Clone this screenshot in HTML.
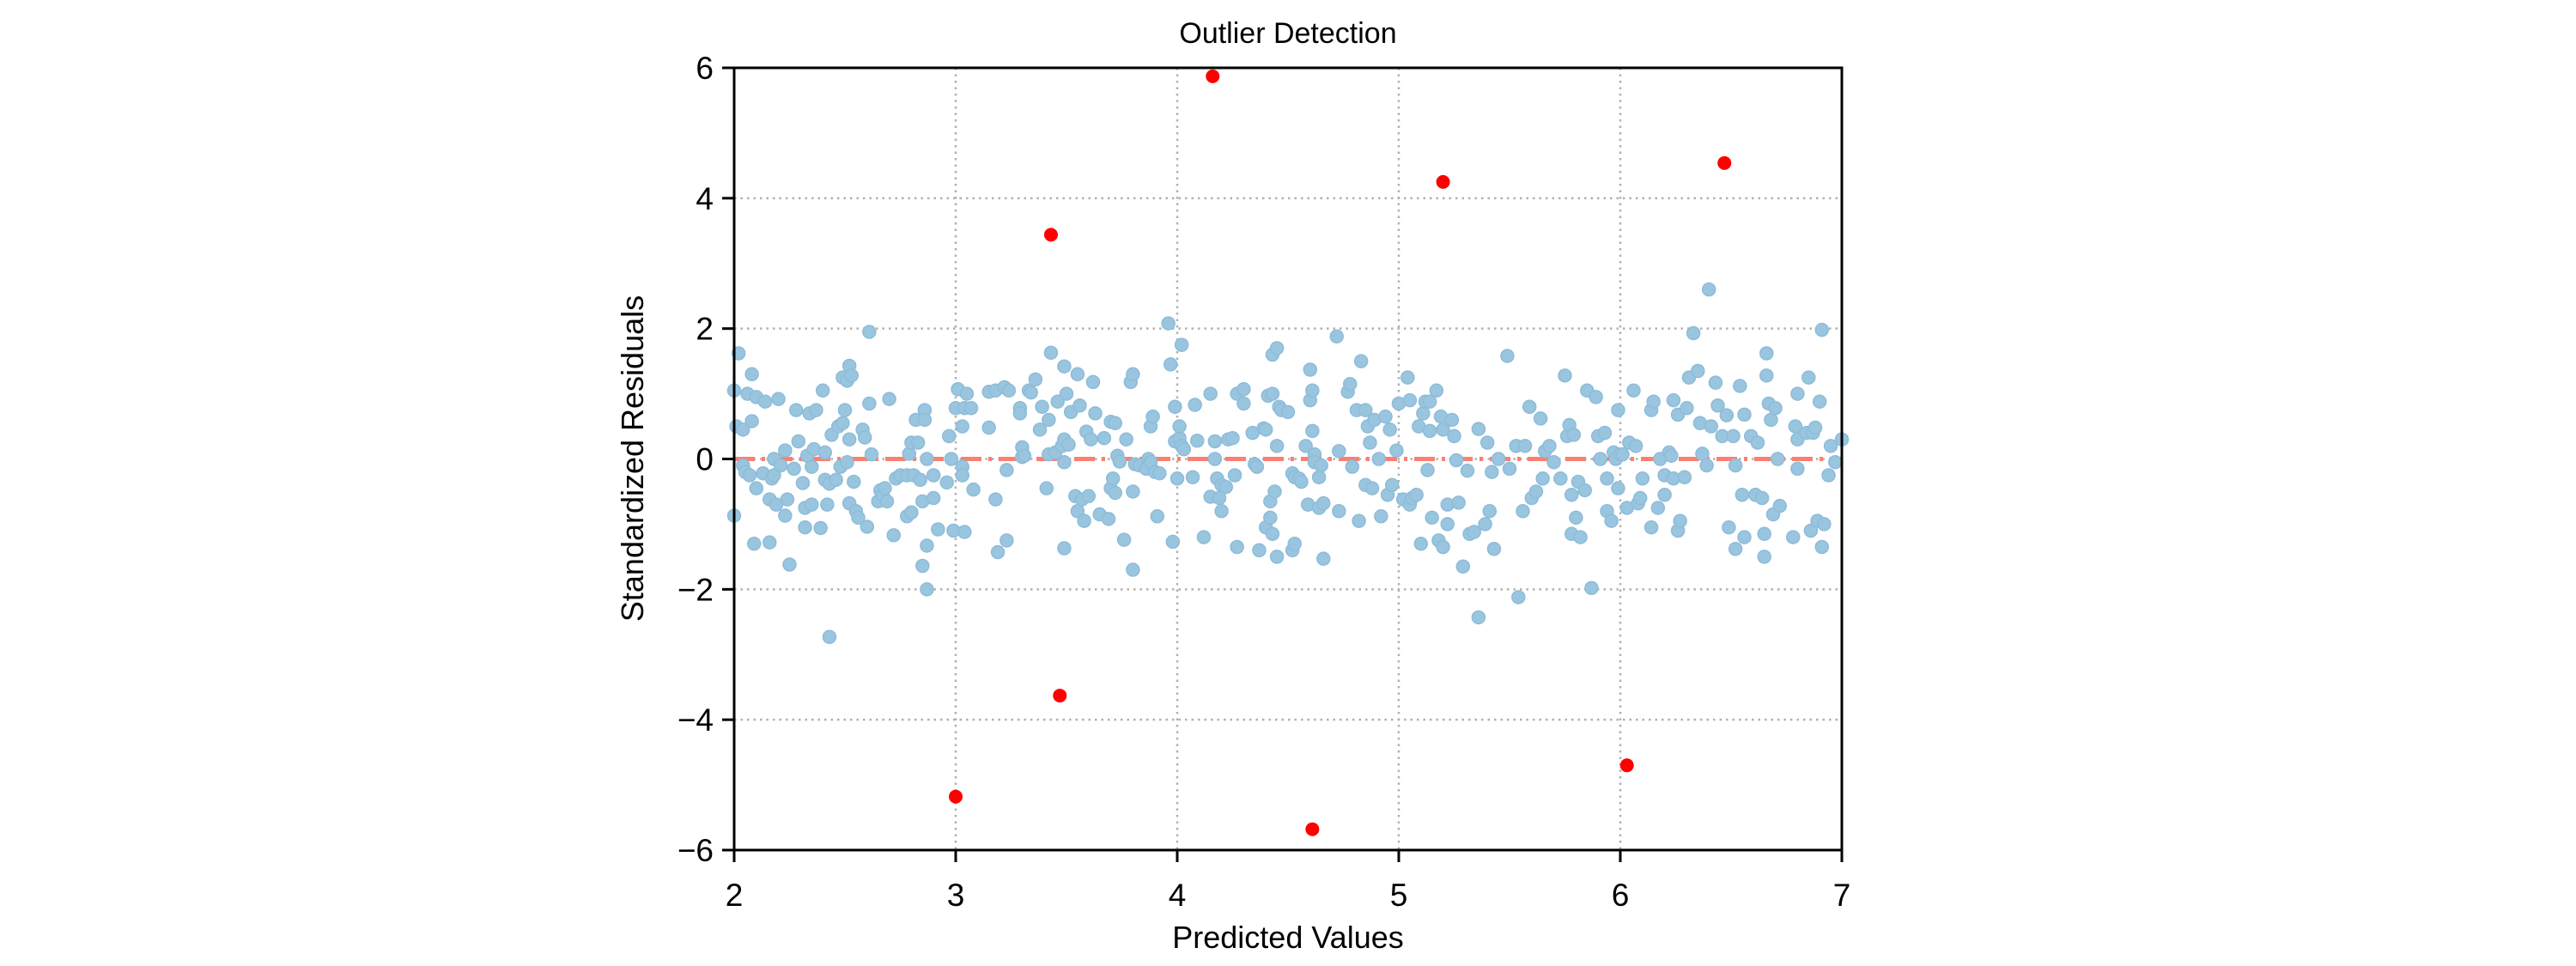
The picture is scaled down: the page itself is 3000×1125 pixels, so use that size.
<!DOCTYPE html>
<html><head><meta charset="utf-8"><style>
html,body{margin:0;padding:0;background:#fff}
svg{display:block}
text{font-family:"Liberation Sans",Arial,sans-serif;fill:#000}
</style></head><body>
<svg id="chart" width="3000" height="1125" viewBox="0 0 3000 1125" xmlns="http://www.w3.org/2000/svg">
<g id="grid"></g>
<g id="zero"></g>
<g id="pts"></g>
<g id="axes"></g>
<text x="1500" y="50" font-size="34" text-anchor="middle">Outlier Detection</text>
<text x="1500" y="1104" font-size="36" text-anchor="middle">Predicted Values</text>
<text x="0" y="0" font-size="36" text-anchor="middle" transform="translate(749,534) rotate(-90)">Standardized Residuals</text>
</svg>
<script>
const xTicks=[2,3,4,5,6,7];
const yTicks=[-6,-4,-2,0,2,4,6];
const yTickLabels=["\u22126","\u22124","\u22122","0","2","4","6"];
const outlierX=[3.0,3.43,3.47,4.16,4.61,5.2,6.03,6.47];
const outlierY=[-5.18,3.44,-3.63,5.87,-5.68,4.25,-4.7,4.54];
const pts=[[2.0,1.05],[2.02,1.62],[2.01,0.5],[2.0,-0.87],[2.04,0.45],[2.04,-0.1],[2.05,-0.2],[2.06,1.0],[2.07,-0.25],[2.08,1.3],[2.08,0.58],[2.09,-1.3],[2.1,0.95],[2.1,-0.45],[2.13,-0.22],[2.14,0.88],[2.16,-1.28],[2.16,-0.62],[2.17,-0.3],[2.18,0.0],[2.18,-0.25],[2.19,-0.7],[2.2,0.92],[2.21,-0.1],[2.23,-0.87],[2.23,0.13],[2.24,-0.62],[2.25,-1.62],[2.27,-0.15],[2.28,0.75],[2.29,0.27],[2.31,-0.37],[2.32,-0.75],[2.32,-1.05],[2.33,0.05],[2.34,0.7],[2.35,-0.7],[2.35,-0.12],[2.36,0.15],[2.37,0.75],[2.39,-1.06],[2.4,1.05],[2.41,-0.32],[2.41,0.1],[2.42,-0.7],[2.43,-0.38],[2.43,-2.73],[2.44,0.37],[2.46,-0.32],[2.47,0.5],[2.48,-0.12],[2.49,1.25],[2.49,0.55],[2.5,0.75],[2.51,-0.05],[2.51,1.2],[2.52,0.3],[2.52,1.43],[2.52,-0.68],[2.53,1.28],[2.54,-0.35],[2.55,-0.8],[2.56,-0.9],[2.58,0.45],[2.59,0.33],[2.6,-1.04],[2.61,1.95],[2.61,0.85],[2.62,0.07],[2.65,-0.65],[2.66,-0.48],[2.67,-0.55],[2.68,-0.45],[2.69,-0.65],[2.7,0.92],[2.72,-1.17],[2.73,-0.3],[2.75,-0.25],[2.78,-0.88],[2.78,-0.25],[2.79,0.08],[2.8,-0.82],[2.8,0.25],[2.81,-0.25],[2.82,0.6],[2.83,0.25],[2.84,-0.32],[2.85,-0.65],[2.85,-1.64],[2.86,0.75],[2.86,0.6],[2.87,-1.33],[2.87,-2.0],[2.87,0.0],[2.9,-0.6],[2.9,-0.25],[2.92,-1.08],[2.96,-0.36],[2.97,0.35],[2.98,0.0],[2.99,-1.1],[3.0,0.78],[3.01,1.07],[3.03,-0.12],[3.03,0.5],[3.03,-0.25],[3.04,-1.12],[3.04,0.78],[3.05,1.0],[3.07,0.78],[3.08,-0.47],[3.15,1.03],[3.15,0.48],[3.18,1.05],[3.18,-0.62],[3.19,-1.43],[3.22,1.1],[3.23,-0.17],[3.23,-1.25],[3.24,1.05],[3.29,0.78],[3.29,0.7],[3.3,0.03],[3.3,0.18],[3.31,0.05],[3.33,1.05],[3.34,1.02],[3.36,1.22],[3.38,0.45],[3.39,0.8],[3.41,-0.45],[3.42,0.6],[3.43,1.63],[3.42,0.07],[3.45,0.1],[3.46,0.88],[3.48,0.2],[3.49,1.42],[3.49,0.3],[3.49,-0.05],[3.49,-1.37],[3.5,1.0],[3.51,0.22],[3.52,0.72],[3.54,-0.57],[3.55,1.3],[3.55,-0.8],[3.56,0.82],[3.57,-0.62],[3.58,-0.95],[3.59,0.42],[3.6,-0.57],[3.61,0.3],[3.62,1.18],[3.63,0.7],[3.65,-0.85],[3.67,0.32],[3.69,-0.92],[3.7,0.57],[3.7,-0.45],[3.71,-0.3],[3.72,-0.52],[3.72,0.55],[3.73,0.05],[3.74,-0.04],[3.76,-1.24],[3.77,0.3],[3.79,1.18],[3.8,1.3],[3.8,-1.7],[3.8,-0.5],[3.81,-0.08],[3.83,-0.1],[3.86,-0.15],[3.87,0.0],[3.88,-0.05],[3.88,0.5],[3.89,0.65],[3.9,-0.2],[3.91,-0.88],[3.92,-0.22],[3.96,2.08],[3.97,1.45],[3.98,-1.27],[3.99,0.8],[3.99,0.27],[4.0,-0.3],[4.01,0.32],[4.01,0.5],[4.02,0.2],[4.02,1.75],[4.03,0.15],[4.07,-0.28],[4.08,0.83],[4.09,0.28],[4.12,-1.2],[4.15,1.0],[4.15,-0.58],[4.17,0.27],[4.17,0.0],[4.18,-0.3],[4.19,-0.6],[4.2,-0.8],[4.2,-0.4],[4.22,-0.43],[4.23,0.3],[4.25,0.32],[4.26,-0.25],[4.27,1.0],[4.27,-1.35],[4.3,1.07],[4.3,0.85],[4.34,0.4],[4.35,-0.08],[4.36,-0.12],[4.37,-1.4],[4.39,0.47],[4.4,0.45],[4.4,-1.05],[4.41,0.97],[4.42,-0.9],[4.42,-0.65],[4.43,1.6],[4.43,1.0],[4.43,-1.15],[4.44,-0.5],[4.45,1.7],[4.45,0.2],[4.45,-1.5],[4.46,0.8],[4.47,0.75],[4.5,0.72],[4.52,-0.22],[4.52,-1.4],[4.53,-0.28],[4.53,-1.3],[4.55,-0.3],[4.56,-0.35],[4.58,0.2],[4.59,-0.7],[4.6,1.37],[4.6,0.9],[4.61,0.43],[4.61,1.05],[4.62,0.07],[4.62,-0.05],[4.64,-0.75],[4.64,-0.28],[4.65,-0.1],[4.66,-0.68],[4.66,-1.53],[4.72,1.88],[4.73,0.12],[4.73,-0.8],[4.77,1.03],[4.78,1.15],[4.79,-0.12],[4.81,0.75],[4.82,-0.95],[4.83,1.5],[4.85,0.75],[4.85,-0.4],[4.86,0.5],[4.87,0.25],[4.88,-0.45],[4.89,0.6],[4.91,0.0],[4.92,-0.88],[4.94,0.65],[4.95,-0.55],[4.96,0.45],[4.97,-0.4],[4.99,0.13],[5.0,0.85],[5.02,-0.62],[5.04,1.25],[5.05,0.9],[5.05,-0.7],[5.06,-0.6],[5.08,-0.55],[5.09,0.5],[5.1,-1.3],[5.11,0.7],[5.12,0.88],[5.13,-0.17],[5.14,0.88],[5.14,0.43],[5.15,-0.9],[5.17,1.05],[5.18,-1.25],[5.19,0.65],[5.2,-1.35],[5.2,0.45],[5.22,-0.7],[5.22,-1.0],[5.24,0.6],[5.25,0.35],[5.26,-0.02],[5.27,-0.67],[5.29,-1.65],[5.31,-0.18],[5.32,-1.15],[5.34,-1.12],[5.36,-2.43],[5.36,0.46],[5.39,-1.0],[5.4,0.25],[5.41,-0.8],[5.42,-0.2],[5.43,-1.38],[5.45,0.0],[5.49,1.58],[5.5,-0.15],[5.53,0.2],[5.54,-2.12],[5.56,-0.8],[5.57,0.2],[5.59,0.8],[5.6,-0.6],[5.62,-0.5],[5.64,0.62],[5.65,-0.3],[5.66,0.12],[5.68,0.2],[5.7,-0.05],[5.73,-0.3],[5.75,1.28],[5.76,0.35],[5.77,0.52],[5.78,-0.55],[5.78,-1.15],[5.79,0.37],[5.8,-0.9],[5.81,-0.35],[5.82,-1.2],[5.84,-0.48],[5.85,1.05],[5.87,-1.98],[5.89,0.95],[5.9,0.35],[5.91,0.0],[5.93,0.4],[5.94,-0.8],[5.94,-0.3],[5.96,-0.95],[5.97,0.1],[5.98,0.0],[5.99,0.75],[5.99,-0.45],[6.0,0.07],[6.01,0.07],[6.03,-0.75],[6.04,0.25],[6.06,1.05],[6.07,0.2],[6.08,-0.68],[6.09,-0.6],[6.1,-0.3],[6.14,0.75],[6.14,-1.05],[6.15,0.88],[6.17,-0.75],[6.18,0.0],[6.2,-0.25],[6.2,-0.55],[6.22,0.1],[6.23,0.05],[6.24,-0.3],[6.24,0.9],[6.26,0.68],[6.26,-1.1],[6.27,-0.95],[6.29,-0.28],[6.3,0.78],[6.31,1.25],[6.33,1.93],[6.35,1.35],[6.36,0.55],[6.37,0.08],[6.39,-0.1],[6.4,2.6],[6.41,0.5],[6.43,1.17],[6.44,0.82],[6.46,0.35],[6.48,0.67],[6.49,-1.05],[6.51,0.35],[6.52,-1.38],[6.52,-0.1],[6.54,1.12],[6.55,-0.55],[6.56,0.68],[6.56,-1.2],[6.59,0.35],[6.61,-0.55],[6.62,0.25],[6.64,-0.6],[6.65,-1.15],[6.65,-1.5],[6.66,1.62],[6.66,1.28],[6.67,0.85],[6.68,0.6],[6.69,-0.85],[6.7,0.78],[6.71,0.0],[6.72,-0.72],[6.78,-1.2],[6.79,0.5],[6.8,1.0],[6.8,0.3],[6.8,-0.15],[6.84,0.4],[6.85,1.25],[6.86,-1.1],[6.87,0.4],[6.88,0.48],[6.89,-0.95],[6.9,0.88],[6.91,1.98],[6.91,-1.35],[6.92,-1.0],[6.94,-0.25],[6.95,0.2],[6.97,-0.05],[7.0,0.3]];

const NS='http://www.w3.org/2000/svg';
const L=855,R=2145,T=79,B=990;
const sx=v=>L+(v-2)/5*(R-L);
const sy=v=>B-(v+6)/12*(B-T);
function mk(tag,attrs,parent){const e=document.createElementNS(NS,tag);for(const k in attrs)e.setAttribute(k,attrs[k]);parent.appendChild(e);return e;}
const grid=document.getElementById('grid'),axes=document.getElementById('axes'),ptsG=document.getElementById('pts'),zero=document.getElementById('zero');
xTicks.forEach((t,i)=>{
  const g=mk('line',{x1:sx(t),x2:sx(t),y1:T,y2:B,stroke:'#b0b0b0','stroke-width':2.5,'stroke-dasharray':'2.5 5'},grid);
  
  
  const tk=mk('line',{x1:sx(t),x2:sx(t),y1:B,y2:B+14,stroke:'#000','stroke-width':3},axes);
  
  
  const tx=mk('text',{x:sx(t),y:B+65,'font-size':37,'text-anchor':'middle'},axes);
  tx.textContent=String(t);
  
  
});
yTicks.forEach((t,i)=>{
  const g=mk('line',{x1:L,x2:R,y1:sy(t),y2:sy(t),stroke:'#b0b0b0','stroke-width':2.5,'stroke-dasharray':'2.5 5'},grid);
  
  
  const tk=mk('line',{x1:L-14,x2:L,y1:sy(t),y2:sy(t),stroke:'#000','stroke-width':3},axes);
  
  
  const tx=mk('text',{x:L-24,y:sy(t)+13,'font-size':37,'text-anchor':'end'},axes);
  tx.textContent=yTickLabels[i];
  
  
});
const zl=mk('line',{x1:L,x2:R,y1:sy(0),y2:sy(0),stroke:'#fa8072','stroke-width':5,'stroke-dasharray':'24 8 4 8'},zero);


pts.forEach(p=>{
  const c=mk('circle',{cx:sx(p[0]),cy:sy(p[1]),r:7.5,fill:'#9ac5df',stroke:'#8dbcd9','stroke-width':1.5},ptsG);
  
  
});
outlierX.forEach((x,i)=>{
  const c=mk('circle',{cx:sx(x),cy:sy(outlierY[i]),r:8,fill:'#ff0000'},ptsG);
  
  
});
const fr=mk('rect',{x:L,y:T,width:R-L,height:B-T,fill:'none',stroke:'#000','stroke-width':3},axes);


</script>
</body></html>
